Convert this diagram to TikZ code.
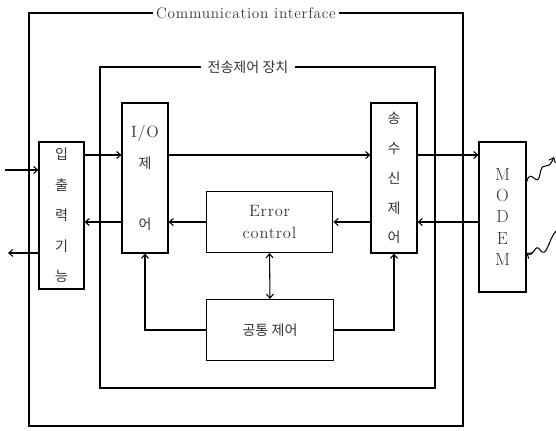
\documentclass[tikz,border=0pt]{standalone}
\usepackage{fontspec}
\newfontfamily\kr{Noto Sans CJK KR}
\newfontfamily\lat{Latin Modern Roman}[LetterSpace=5]
\usepackage{tikz}
\usetikzlibrary{arrows.meta, positioning}

\begin{document}
\begin{tikzpicture}[x=0.03cm, y=-0.03cm, line width=0.9pt,
  >={Straight Barb[length=3.5pt,width=6pt]},
  blk/.style={draw, inner sep=0pt, align=center, text=black!80},
  tall/.style={blk, minimum width=1.38cm, minimum height=4.5cm},
  wide/.style={blk, minimum width=3.8cm, minimum height=1.83cm},
  ttl/.style={inner sep=2pt, text=black!80}]
  \useasboundingbox (0,0) rectangle (556,431);

  \node[ttl, font=\lat\fontsize{13}{14}\selectfont] (ci) at (246,13) {Communication interface};
  \draw (ci.east) -| (463,426) -| (29,13) -- (ci.west);
  \node[ttl, inner sep=5pt, font=\kr\fontsize{12}{14}\selectfont] (tc) at (248,67) {전송제어 장치};
  \draw (tc.east) -| (435,388) -| (100,67) -- (tc.west);

  \node[tall, minimum height=4.41cm, minimum width=1.35cm, font=\kr\fontsize{12}{26}\selectfont] (inout) at (61.5,215.5) {입\\출\\력\\기\\능};
  \node[tall, font=\lat\fontsize{14}{26}\selectfont] (io) at (145,178) {I/O\\{\kr\fontsize{12}{26}\selectfont 제}\\[26pt]{\kr\fontsize{12}{26}\selectfont 어}};
  \node[tall, font=\kr\fontsize{12}{25.5}\selectfont] (txrx) at (394,178) {송\\수\\신\\제\\어};
  \node[tall, minimum width=1.41cm, font=\lat\fontsize{15}{18}\selectfont] (modem) at (502.5,217) {M\\O\\D\\E\\M};
  \node[wide, font=\lat\fontsize{14}{19}\selectfont] (err) at (269.5,222) {Error\\control};
  \node[wide, font=\kr\fontsize{12}{14}\selectfont] (common) at (270,330) {공통 제어};

  \coordinate (r1) at (0,155);
  \coordinate (r2) at (0,222);
  \coordinate (in) at (5,170);
  \coordinate (out) at (8,253);
  \coordinate (w1) at (554,157);
  \coordinate (w2) at (556,231);

  \draw[->] (in) -- (in -| inout.west);
  \draw[->] (out -| inout.west) -- (out);
  \draw[->] (inout.east |- r1) -- (io.west |- r1);
  \draw[->] (io.west |- r2) -- (inout.east |- r2);
  \draw[->] (io.east |- r1) -- (txrx.west |- r1);
  \draw[->] (err.west) -- (io.east |- err.west);
  \draw[->] (txrx.west |- r2) -- (err.east |- r2);
  \draw[->] (txrx.east |- r1) -- (modem.west |- r1);
  \draw[->] (modem.west |- r2) -- (txrx.east |- r2);
  \draw[<->] (err.south) -- (common.north);
  \draw[->] (common.west) -| (io.south);
  \draw[->] (common.east) -| (txrx.south);

  \draw[->] (modem.east |- 0,182) .. controls (531,166) and (537,190) .. (540,174) .. controls (543,158) and (547,174) .. (w1);
  \draw[->] (w2) .. controls (548,240) and (547,259) .. (540,250) .. controls (535,242) and (534,258) .. (modem.east |- 0,253);
\end{tikzpicture}
\end{document}
